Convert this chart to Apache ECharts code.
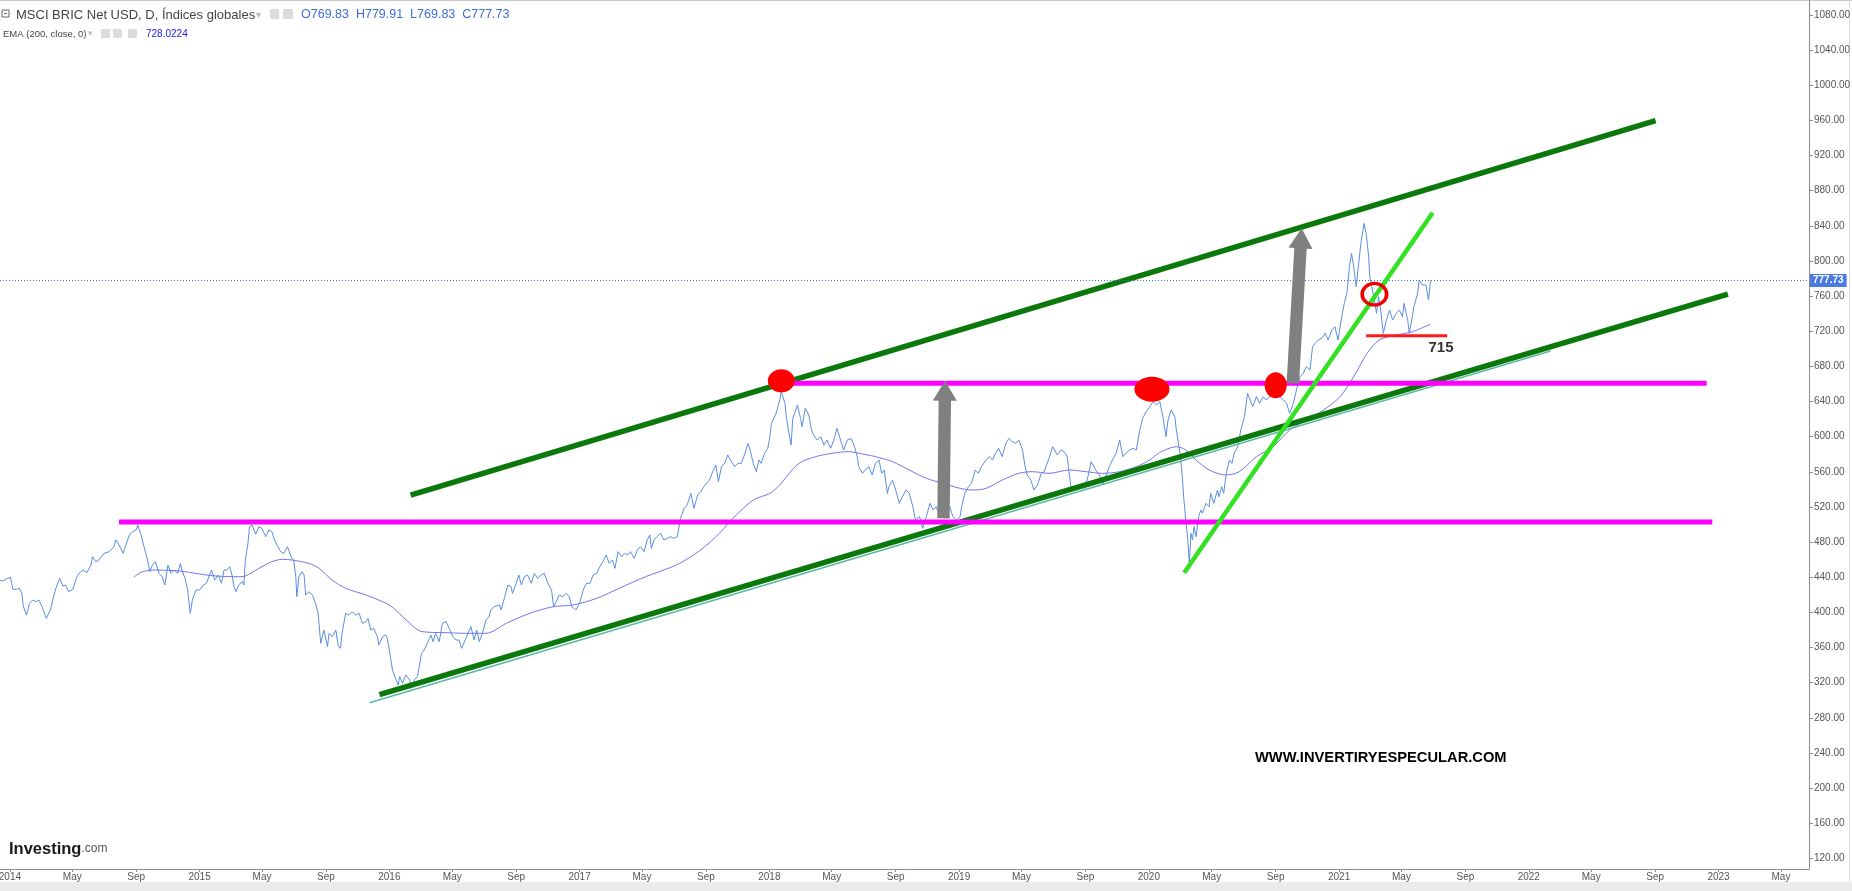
<!DOCTYPE html>
<html><head><meta charset="utf-8">
<script src="https://cdn.jsdelivr.net/npm/echarts@6/dist/echarts.min.js"></script>
<style>html,body{margin:0;padding:0;background:#fff;overflow:hidden}#c{width:1852px;height:891px}</style>
</head><body><div id="c"></div>
<script>
// ---------- DATA ----------
const priceDates = ['2013-12-12','2013-12-18','2013-12-26','2014-01-02','2014-01-07','2014-01-14','2014-01-19','2014-01-24','2014-01-27','2014-02-02','2014-02-08','2014-02-14','2014-02-20','2014-02-26','2014-03-04','2014-03-12','2014-03-20','2014-03-26','2014-03-31','2014-04-07','2014-04-13','2014-04-18','2014-04-24','2014-05-02','2014-05-10','2014-05-17','2014-05-23','2014-05-29','2014-06-06','2014-06-09','2014-06-15','2014-06-21','2014-07-01','2014-07-11','2014-07-20','2014-07-24','2014-07-30','2014-08-07','2014-08-11','2014-08-19','2014-08-25','2014-09-01','2014-09-04','2014-09-10','2014-09-16','2014-09-23','2014-09-27','2014-10-02','2014-10-08','2014-10-15','2014-10-21','2014-10-26','2014-11-01','2014-11-07','2014-11-13','2014-11-20','2014-11-25','2014-11-29','2014-12-04','2014-12-09','2014-12-14','2014-12-18','2014-12-25','2015-01-01','2015-01-08','2015-01-14','2015-01-17','2015-01-24','2015-01-30','2015-02-06','2015-02-12','2015-02-17','2015-02-22','2015-02-28','2015-03-05','2015-03-08','2015-03-12','2015-03-17','2015-03-24','2015-03-27','2015-03-30','2015-04-04','2015-04-07','2015-04-12','2015-04-19','2015-04-25','2015-05-01','2015-05-08','2015-05-14','2015-05-20','2015-05-25','2015-05-30','2015-06-06','2015-06-12','2015-06-19','2015-06-22','2015-06-27','2015-07-01','2015-07-05','2015-07-07','2015-07-11','2015-07-17','2015-07-21','2015-07-24','2015-07-30','2015-08-06','2015-08-12','2015-08-17','2015-08-22','2015-08-28','2015-09-04','2015-09-07','2015-09-13','2015-09-20','2015-09-25','2015-09-29','2015-10-02','2015-10-09','2015-10-15','2015-10-21','2015-10-28','2015-11-04','2015-11-10','2015-11-17','2015-11-21','2015-11-26','2015-12-02','2015-12-09','2015-12-12','2015-12-19','2015-12-25','2015-12-28','2016-01-01','2016-01-07','2016-01-14','2016-01-18',
'2016-01-21','2016-01-26','2016-02-02','2016-02-09','2016-02-12','2016-02-18','2016-02-24','2016-02-27','2016-03-03','2016-03-08','2016-03-14','2016-03-21','2016-03-25','2016-03-30','2016-04-06','2016-04-12','2016-04-19','2016-04-25','2016-05-02','2016-05-08','2016-05-14','2016-05-19','2016-05-26','2016-05-30','2016-06-06','2016-06-12','2016-06-17','2016-06-22','2016-06-28','2016-07-05','2016-07-11','2016-07-14','2016-07-21','2016-07-31','2016-08-03','2016-08-10','2016-08-16','2016-08-22','2016-08-25','2016-09-01','2016-09-06','2016-09-11','2016-09-17','2016-09-23','2016-09-30','2016-10-06','2016-10-12','2016-10-19','2016-10-25','2016-11-01','2016-11-08','2016-11-12','2016-11-17','2016-11-23','2016-11-30','2016-12-06','2016-12-12','2016-12-17','2016-12-25','2017-01-02','2017-01-08','2017-01-14','2017-01-21','2017-01-27','2017-02-03','2017-02-09','2017-02-15','2017-02-21','2017-02-27','2017-03-05','2017-03-10','2017-03-16','2017-03-23','2017-03-29','2017-04-03','2017-04-09','2017-04-16','2017-04-22','2017-04-28','2017-05-05','2017-05-11','2017-05-16','2017-05-19','2017-05-24','2017-05-30','2017-06-06','2017-06-12','2017-06-19','2017-06-25','2017-07-01','2017-07-08','2017-07-14','2017-07-21','2017-07-27','2017-08-03','2017-08-09','2017-08-16','2017-08-22','2017-08-28','2017-09-08','2017-09-14','2017-09-20','2017-09-25','2017-10-01','2017-10-07','2017-10-13','2017-10-20','2017-10-26','2017-11-02','2017-11-08','2017-11-14','2017-11-21','2017-11-25','2017-12-01','2017-12-07','2017-12-12','2017-12-16','2017-12-23','2017-12-29','2018-01-02','2018-01-05',
'2018-01-08','2018-01-14','2018-01-21','2018-01-24','2018-01-27','2018-01-31','2018-02-03','2018-02-09','2018-02-12','2018-02-15','2018-02-21','2018-02-24','2018-02-27','2018-03-02','2018-03-05','2018-03-11','2018-03-18','2018-03-23','2018-03-27','2018-04-03','2018-04-10','2018-04-16','2018-04-22','2018-04-29','2018-05-05','2018-05-11','2018-05-18','2018-05-24','2018-05-31','2018-06-07','2018-06-13','2018-06-19','2018-06-22','2018-06-29','2018-07-05','2018-07-11','2018-07-18','2018-07-24','2018-07-31','2018-08-05','2018-08-10','2018-08-16','2018-08-19','2018-08-26','2018-09-02','2018-09-08','2018-09-14','2018-09-21','2018-09-27','2018-10-04','2018-10-09','2018-10-17','2018-10-23','2018-10-30','2018-11-06','2018-11-12','2018-11-18','2018-11-25','2018-12-01','2018-12-08','2018-12-14','2018-12-20','2018-12-27','2019-01-03','2019-01-06','2019-01-12','2019-01-19','2019-01-25','2019-02-01','2019-02-07','2019-02-13','2019-02-22','2019-02-28','2019-03-06','2019-03-12','2019-03-18','2019-03-25','2019-04-01','2019-04-07','2019-04-13','2019-04-20','2019-04-26','2019-05-03','2019-05-08','2019-05-12','2019-05-19','2019-05-25','2019-06-01','2019-06-08','2019-06-14','2019-06-17','2019-06-23','2019-06-30','2019-07-03','2019-07-09','2019-07-16','2019-07-22','2019-07-28','2019-08-04','2019-08-10','2019-08-17','2019-08-23','2019-08-30','2019-09-06','2019-09-12','2019-09-15','2019-09-21','2019-09-28','2019-10-04','2019-10-11','2019-10-17','2019-10-23','2019-10-30','2019-11-06','2019-11-12','2019-11-18','2019-11-25','2019-12-01','2019-12-08','2019-12-14','2019-12-20','2019-12-27','2020-01-03','2020-01-09','2020-01-16','2020-01-22',
'2020-01-28','2020-02-03','2020-02-07','2020-02-13','2020-02-20','2020-02-23','2020-02-26','2020-03-01','2020-03-05','2020-03-08','2020-03-12','2020-03-16','2020-03-19','2020-03-22','2020-03-25','2020-03-28','2020-04-01','2020-04-06','2020-04-10','2020-04-13','2020-04-20','2020-04-26','2020-04-29','2020-05-05','2020-05-12','2020-05-15','2020-05-20','2020-05-24','2020-05-29','2020-06-04','2020-06-09','2020-06-13','2020-06-20','2020-06-26','2020-07-03','2020-07-09','2020-07-14','2020-07-19','2020-07-26','2020-08-01','2020-08-08','2020-08-14','2020-08-21','2020-08-27','2020-09-03','2020-09-09','2020-09-16','2020-09-22','2020-09-28','2020-10-05','2020-10-11','2020-10-18','2020-10-24','2020-10-30','2020-11-06','2020-11-11','2020-11-16','2020-11-22','2020-11-29','2020-12-05','2020-12-11','2020-12-18','2020-12-24','2020-12-30','2021-01-06','2021-01-11','2021-01-16','2021-01-21','2021-01-25','2021-01-29','2021-02-03','2021-02-07','2021-02-12','2021-02-16','2021-02-18','2021-02-22','2021-02-27','2021-03-01','2021-03-05','2021-03-10','2021-03-14','2021-03-18','2021-03-22','2021-03-27','2021-04-02','2021-04-08','2021-04-14','2021-04-21','2021-04-27','2021-05-03','2021-05-06','2021-05-13','2021-05-16','2021-05-22','2021-05-25','2021-06-01','2021-06-04','2021-06-10','2021-06-17','2021-06-22','2021-06-26'];
const priceValues = [436.8,435.7,438.4,439.9,426.2,426.2,427.7,421.7,406.5,397.0,410.3,414.1,412.2,414.1,406.5,393.2,402.7,417.9,428.5,438.7,430.0,431.2,423.6,426.2,440.6,446.3,448.2,445.2,453.9,463.4,457.7,459.6,467.2,469.1,474.8,482.4,476.7,467.2,474.8,488.1,491.9,493.8,499.4,489.0,474.8,459.6,446.3,453.9,457.7,444.4,440.6,431.2,453.9,444.4,448.2,444.4,455.8,446.3,438.7,425.5,398.9,414.1,425.5,425.5,431.2,433.1,435.0,448.2,436.8,442.5,433.1,448.2,448.2,452.0,440.6,429.3,423.6,431.2,435.0,431.2,459.6,478.6,497.5,499.4,489.0,497.5,495.6,486.2,493.8,491.9,482.4,476.7,469.1,467.2,474.8,472.9,461.5,459.6,440.6,417.9,440.6,446.3,442.5,419.8,423.6,419.8,410.3,398.9,364.8,379.9,361.0,376.1,372.3,379.9,361.0,359.1,376.1,398.9,397.0,400.8,397.0,398.9,387.5,389.4,393.2,379.9,381.8,372.3,362.9,372.3,374.2,370.4,357.2,334.4,323.0,317.3,
326.9,319.3,328.8,323.1,313.6,323.1,326.9,325.0,353.4,357.2,364.8,374.3,366.7,376.2,366.7,387.6,389.5,381.9,372.4,368.6,368.6,359.1,368.6,374.3,383.8,368.6,380.0,366.7,376.2,391.4,395.2,402.7,406.5,408.4,402.7,417.9,431.2,429.3,421.7,433.1,442.6,431.2,440.7,442.6,433.1,444.5,438.8,442.6,444.5,433.1,425.5,406.5,412.2,419.8,417.9,421.7,417.9,406.5,402.7,412.2,425.5,433.1,433.1,442.6,444.5,452.1,457.8,465.3,455.9,459.7,450.2,469.1,463.4,467.2,465.3,469.1,461.5,471.0,474.8,469.1,482.4,488.1,472.9,482.4,486.2,490.0,482.4,484.3,486.2,484.3,486.2,507.1,518.5,522.3,535.5,518.5,533.6,537.4,543.1,550.7,560.2,567.8,548.8,565.9,569.7,579.2,571.6,565.9,569.7,569.7,579.2,592.4,584.9,569.7,560.2,573.5,569.7,581.1,586.8,600.0,615.2,
619.0,626.6,641.8,651.3,649.4,638.0,620.9,600.0,590.5,620.9,630.4,636.1,634.2,620.9,611.4,632.3,624.7,607.6,601.9,596.2,600.0,590.5,596.2,586.8,596.2,609.5,596.2,584.9,596.2,598.1,590.5,577.3,565.9,558.3,562.1,565.9,556.4,569.7,573.5,558.3,562.1,535.5,543.1,550.7,537.4,524.2,531.7,539.3,535.5,520.4,505.2,509.0,495.7,509.0,524.2,516.6,520.4,509.0,520.4,518.5,520.4,509.0,505.2,509.0,520.4,535.5,543.1,546.9,562.1,558.3,565.9,573.5,577.3,573.5,581.1,586.8,577.3,592.5,598.1,594.3,592.5,596.2,584.9,565.9,556.4,550.7,539.3,545.0,558.3,560.2,565.9,575.4,588.7,590.5,579.2,584.9,583.0,577.3,543.1,543.1,539.3,545.0,541.2,554.5,571.6,569.7,562.1,556.4,545.0,556.4,565.9,573.5,581.1,596.2,577.3,581.1,584.9,586.8,584.9,605.7,620.9,628.5,634.2,639.9,636.1,640.0,
622.8,600.0,619.0,630.4,622.8,607.6,596.2,581.1,558.3,531.7,505.2,482.4,455.8,490.0,482.4,497.6,486.2,509.0,516.6,512.8,524.1,520.3,535.5,524.1,539.3,531.7,543.1,535.5,558.3,573.5,569.7,581.1,588.6,607.6,622.8,649.3,641.8,634.2,645.6,638.0,645.6,641.8,645.6,653.1,649.3,645.6,641.8,638.0,626.6,638.0,653.1,668.3,672.1,679.7,675.9,702.5,706.3,710.1,712.0,717.6,710.1,721.4,725.2,710.1,736.6,751.8,763.2,793.5,808.7,793.5,770.8,793.5,820.1,835.3,842.8,831.5,804.9,782.1,770.8,755.6,740.4,759.4,744.2,717.6,732.8,744.2,732.8,740.4,744.2,736.6,751.8,732.8,717.6,736.6,748.0,763.2,778.3,772.7,772.7,755.6,777.73];

const emaDates = ['2014-08-27','2014-09-13','2014-10-08','2014-11-23','2015-01-01','2015-02-02','2015-03-17','2015-03-30','2015-04-25','2015-05-20','2015-06-09','2015-06-28','2015-07-30','2015-08-19','2015-09-13','2015-10-09','2015-11-17','2016-01-01','2016-01-20','2016-02-02','2016-03-04','2016-04-19','2016-05-27','2016-07-05','2016-08-13','2016-09-27','2016-11-11','2016-12-19','2017-02-03','2017-03-18','2017-05-08','2017-06-29','2017-07-24','2017-08-26','2017-09-27','2017-10-23','2017-12-01','2018-01-02','2018-01-21','2018-02-03','2018-02-27','2018-03-31','2018-05-02','2018-06-03','2018-06-22','2018-07-24','2018-08-26','2018-09-27','2018-10-30','2018-12-01','2019-01-03','2019-01-28','2019-02-22','2019-03-25','2019-04-26','2019-05-22','2019-06-23','2019-08-01','2019-09-02','2019-10-04','2019-11-06','2019-12-08','2020-01-03','2020-01-22','2020-02-23','2020-03-12','2020-04-01','2020-04-26','2020-05-28','2020-06-23','2020-07-26','2020-08-27','2020-09-28','2020-10-30','2020-12-02','2021-01-03','2021-01-29','2021-02-24','2021-03-19','2021-04-21','2021-05-22','2021-06-26'];
const emaValues = [439.9,446.3,448.2,447.1,443.7,441.4,440.6,441.4,450.1,457.7,460.4,459.6,455.8,450.1,436.8,427.4,419.8,408.4,399.0,391.4,378.1,376.9,376.2,376.2,387.6,398.9,406.5,408.4,416.0,427.4,440.7,452.1,459.7,472.9,490.0,507.1,527.9,535.5,545.0,554.5,569.7,577.3,581.1,583.0,581.1,577.3,571.6,562.1,552.6,546.9,541.2,539.3,541.2,550.7,558.3,560.2,558.3,562.1,560.2,558.3,560.2,565.9,573.5,582.0,588.6,584.9,573.5,562.1,556.4,560.2,577.3,588.6,607.6,619.0,630.4,645.6,668.3,694.9,710.1,715.7,719.5,728.02];

// drawn annotations (date / value endpoints)
const upperChannelDates = ['2016-02-11','2022-09-02'];
const upperChannelValues = [533.6, 959.9];
const lowerChannelDates = ['2015-12-13','2023-01-19'];
const lowerChannelValues = [306.5, 762.4];
const thinTrendDates = ['2015-11-24','2022-02-12'];
const thinTrendValues = [297.2, 697.6];
const steepTrendDates = ['2020-03-09','2021-06-30'];
const steepTrendValues = [445.2, 855.0];
const lowerResistDates = ['2014-07-30','2022-12-20'];
const lowerResistValues = [503.0, 503.0];
const upperResistDates = ['2018-01-24','2022-12-09'];
const upperResistValues = [660.8, 660.8];
const supportDates = ['2021-02-22','2021-07-28'];
const supportValues = [715, 715];
const supportLabel = '715';
const supportLabelDate = '2021-07-16';
const supportLabelValue = 700.6;
const arrowFromDates = ['2018-12-02','2020-10-04'];
const arrowFromValues = [507.1, 660.8];
const arrowToDates = ['2018-12-05','2020-10-21'];
const arrowToValues = [663.7, 837.2];
const dotDates = ['2018-01-24','2020-01-07','2020-09-01'];
const dotValues = [663.6, 654.0, 658.5];
const ringDates = ['2021-03-10'];
const ringValues = [762.2];

const lastClose = 777.73;
const lastEma = 728.02;

const yTicks = [120,160,200,240,280,320,360,400,440,480,520,560,600,640,680,720,760,800,840,880,920,960,1000,1040,1080];
const xTickDates = ['2014-01-01','2014-05-01','2014-09-01','2015-01-01','2015-05-01','2015-09-01','2016-01-01','2016-05-01','2016-09-01','2017-01-01','2017-05-01','2017-09-01','2018-01-01','2018-05-01','2018-09-01','2019-01-01','2019-05-01','2019-09-01','2020-01-01','2020-05-01','2020-09-01','2021-01-01','2021-05-01','2021-09-01','2022-01-01','2022-05-01','2022-09-01','2023-01-01','2023-05-01'];
const xTickLabels = ['2014','May','Sep','2015','May','Sep','2016','May','Sep','2017','May','Sep','2018','May','Sep','2019','May','Sep','2020','May','Sep','2021','May','Sep','2022','May','Sep','2023','May'];
const xMinDate = '2013-12-13';
const xMaxDate = '2023-06-24';
const yMin = 107.9, yMax = 1097.1;

// ---------- BUILD ----------
function ts(s){const p=s.split('-').map(Number);return Date.UTC(p[0],p[1]-1,p[2]);}
const pair = (ds, vs) => ds.map((d,i)=>[ts(d), vs[i]]);
const xTickTs = xTickDates.map(ts);
function xLabel(v){
  let best=-1, bd=Infinity;
  xTickTs.forEach((t,i)=>{const d=Math.abs(t-v); if(d<bd){bd=d;best=i;}});
  return bd < 86400000 ? xTickLabels[best] : '';
}
function hasFont(f){
  const c=document.createElement('canvas').getContext('2d'); const s='1080.00 Sep May 2014';
  c.font='20px monospace'; const w1=c.measureText(s).width;
  c.font="20px '"+f+"', monospace"; return Math.abs(c.measureText(s).width-w1)>0.5;
}
const narrow = hasFont('Liberation Sans Narrow');
const axisFamily = narrow ? "'Liberation Sans Narrow', sans-serif" : "'Liberation Sans', Arial, sans-serif";
const axisSize = narrow ? 11 : 10;

function segSeries(name, ds, vs, color, width, z){
  return {name, type:'line', data:pair(ds,vs), symbol:'none', silent:true, animation:false,
    lineStyle:{color, width, cap:'butt'}, z};
}

const chart = echarts.init(document.getElementById('c'), null, {renderer:'canvas'});

const option = {
  backgroundColor:'#ffffff',
  animation:false,
  grid:{left:0, right:43, top:0, bottom:22, containLabel:false, outerBoundsMode:'none'},
  xAxis:{
    type:'value', min:ts(xMinDate), max:ts(xMaxDate), scale:true,
    axisLine:{show:true, onZero:false, lineStyle:{color:'#8c8c8c', width:1}},
    axisTick:{show:true, customValues:xTickTs, length:3, lineStyle:{color:'#8c8c8c'}},
    axisLabel:{customValues:xTickTs, formatter:(v)=>xLabel(v), color:'#555', fontSize:axisSize,
      fontFamily:axisFamily, margin:3, hideOverlap:false},
    splitLine:{show:false}
  },
  yAxis:{
    type:'value', position:'right', min:yMin, max:yMax, scale:true,
    axisLine:{show:true, onZero:false, lineStyle:{color:'#8c8c8c', width:1}},
    axisTick:{show:true, customValues:yTicks, length:4, lineStyle:{color:'#8c8c8c'}},
    axisLabel:{customValues:yTicks, formatter:(v)=>Number(v).toFixed(2), color:'#555', fontSize:axisSize, fontFamily:axisFamily, margin:5},
    splitLine:{show:false}
  },
  series:[
    {name:'price', type:'line', data:pair(priceDates, priceValues), symbol:'none', silent:true,
      lineStyle:{color:'#5a8ee0', width:1}, z:2,
      markLine:{silent:true, symbol:'none', animation:false,
        data:[{yAxis:lastClose, lineStyle:{type:[1,2], color:'#3a6ad8', width:1},
          label:{show:true, position:'end', distance:1, formatter:lastClose.toFixed(2), color:'#fff', backgroundColor:'#4b7ae0',
            padding:[2,3,1,3], fontSize:axisSize, fontFamily:axisFamily, fontWeight:'bold'}},
          {yAxis:lastEma, lineStyle:{opacity:0},
          label:{show:true, position:'end', distance:1, formatter:lastEma.toFixed(2), color:'#fff', backgroundColor:'#0000ff',
            padding:[2,3,1,3], fontSize:axisSize, fontFamily:axisFamily, fontWeight:'bold'}}]}},
    {name:'ema', type:'line', data:pair(emaDates, emaValues), symbol:'none', silent:true, smooth:0.3,
      lineStyle:{color:'#7474ee', width:1}, z:2},
    segSeries('thin', thinTrendDates, thinTrendValues, '#5bb8a6', 1.5, 3),
    segSeries('upper', upperChannelDates, upperChannelValues, '#0b780b', 5.5, 4),
    segSeries('lower', lowerChannelDates, lowerChannelValues, '#0b780b', 5.5, 4),
    segSeries('resLow', lowerResistDates, lowerResistValues, '#ff00ff', 5, 5),
    segSeries('resUp', upperResistDates, upperResistValues, '#ff00ff', 5, 5),
    segSeries('steep', steepTrendDates, steepTrendValues, '#33e022', 4.5, 6),
    segSeries('support', supportDates, supportValues, '#ff1a1a', 3, 6),
    {name:'arrows', type:'custom', silent:true, z:7,
      data:arrowFromDates.map((d,i)=>[ts(d), arrowFromValues[i], ts(arrowToDates[i]), arrowToValues[i]]),
      encode:{x:[0,2], y:[1,3]},
      renderItem:(params, api)=>{
        const a = api.coord([api.value(0), api.value(1)]);
        const b = api.coord([api.value(2), api.value(3)]);
        const dx=b[0]-a[0], dy=b[1]-a[1], L=Math.hypot(dx,dy);
        const ux=dx/L, uy=dy/L, nx=-uy, ny=ux;
        const sw=6.2, hw=12, hl=20;
        const hb=[b[0]-ux*hl, b[1]-uy*hl];
        const pts=[[a[0]+nx*sw,a[1]+ny*sw],[hb[0]+nx*sw,hb[1]+ny*sw],[hb[0]+nx*hw,hb[1]+ny*hw],b,
          [hb[0]-nx*hw,hb[1]-ny*hw],[hb[0]-nx*sw,hb[1]-ny*sw],[a[0]-nx*sw,a[1]-ny*sw]];
        return {type:'polygon', shape:{points:pts}, style:{fill:'#808080'}};
      }},
    {name:'dots', type:'scatter', silent:true, z:8, symbol:'circle',
      data:dotDates.map((d,i)=>({value:[ts(d), dotValues[i]], symbolSize:[[27,23],[35,25],[22,26]][i]})),
      itemStyle:{color:'#ff0000', opacity:1}},
    {name:'ring', type:'scatter', silent:true, z:9, symbol:'circle', symbolSize:[24.5,21.5],
      data:pair(ringDates, ringValues),
      itemStyle:{color:'rgba(0,0,0,0)', borderColor:'#ee0000', borderWidth:3.4, opacity:1}},
    {name:'lbl', type:'scatter', silent:true, z:9, symbolSize:1,
      data:[[ts(supportLabelDate), supportLabelValue]],
      itemStyle:{color:'rgba(0,0,0,0)'},
      label:{show:true, position:'inside', formatter:supportLabel, color:'#000', fontSize:15, fontWeight:'bold', fontFamily:"Arial,'Liberation Sans',sans-serif"}}
  ],
  graphic:[
    {type:'rect', shape:{x:0,y:0,width:1852,height:1}, style:{fill:'#c8c8c8'}, silent:true},
    {type:'rect', shape:{x:0,y:882,width:1852,height:9}, style:{fill:'#ebebeb'}, silent:true},
    {type:'rect', shape:{x:1849,y:0,width:1,height:882}, style:{fill:'#dcdcdc'}, silent:true},
    // legend line 1
    {type:'rect', shape:{x:2,y:10,width:7,height:7}, style:{fill:'none', stroke:'#666', lineWidth:1}, silent:true},
    {type:'rect', shape:{x:4,y:13,width:3,height:1}, style:{fill:'#666'}, silent:true},
    {type:'text', x:16, y:15, style:{text:'MSCI BRIC Net USD, D, Índices globales', fill:'#444', font:"13px 'Liberation Sans', Arial, sans-serif", verticalAlign:'middle'}, silent:true},
    {type:'text', x:256, y:15, style:{text:'▾', fill:'#bbb', font:"10px 'DejaVu Sans', sans-serif", verticalAlign:'middle'}, silent:true},
    {type:'rect', shape:{x:270,y:9,width:9,height:10,r:1}, style:{fill:'#dcdcdc'}, silent:true},
    {type:'rect', shape:{x:283,y:9,width:10,height:10,r:1}, style:{fill:'#dcdcdc'}, silent:true},
    {type:'text', x:301, y:15, style:{text:'O769.83  H779.91  L769.83  C777.73', fill:'#3e6ed6', font:"12.5px 'Liberation Sans', Arial, sans-serif", verticalAlign:'middle'}, silent:true},
    // legend line 2
    {type:'text', x:3, y:34, style:{text:'EMA (200, close, 0)', fill:'#444', font:"9.5px 'Liberation Sans', Arial, sans-serif", verticalAlign:'middle'}, silent:true},
    {type:'text', x:88, y:34, style:{text:'▾', fill:'#bbb', font:"9px 'DejaVu Sans', sans-serif", verticalAlign:'middle'}, silent:true},
    {type:'rect', shape:{x:101,y:29,width:9,height:9,r:1}, style:{fill:'#dcdcdc'}, silent:true},
    {type:'rect', shape:{x:113,y:29,width:9,height:9,r:1}, style:{fill:'#dcdcdc'}, silent:true},
    {type:'rect', shape:{x:128,y:29,width:9,height:9,r:1}, style:{fill:'#dcdcdc'}, silent:true},
    {type:'text', x:146, y:34, style:{text:'728.0224', fill:'#1c1cf0', font:"10px 'Liberation Sans', Arial, sans-serif", verticalAlign:'middle'}, silent:true},
    // watermark
    {type:'text', x:1255, y:758, style:{text:'WWW.INVERTIRYESPECULAR.COM', fill:'#000', font:"bold 14.7px Arial, 'Liberation Sans', sans-serif", verticalAlign:'middle'}, silent:true},
    // logo
    {type:'text', x:9, y:849, style:{text:'{a|Investing}{b|.com}', verticalAlign:'middle',
      rich:{a:{fill:'#1a1a1a', font:"bold 16.5px Arial, 'Liberation Sans', sans-serif"}, b:{fill:'#555', font:"12px Arial, 'Liberation Sans', sans-serif"}}}, silent:true}
  ]
};
chart.setOption(option);
</script>
</body></html>
